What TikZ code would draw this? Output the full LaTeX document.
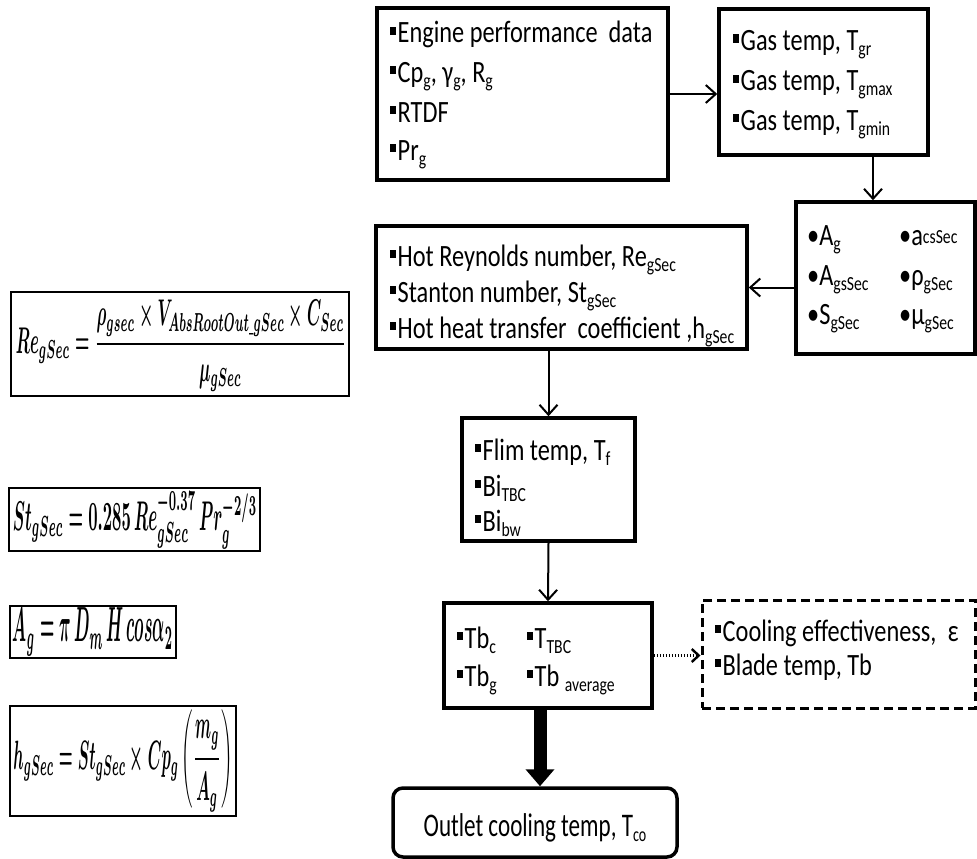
\documentclass[tikz,border=0pt]{standalone}
\usepackage{fontspec}
\setmainfont{Carlito}[FakeStretch=0.785]
\newfontfamily\outfont{Carlito}[FakeStretch=0.7]
\usepackage{amsmath}
\usepackage{graphicx}
\usetikzlibrary{arrows.meta}
\newcommand\lo[1]{\raisebox{-5pt}{\fontsize{20}{20}\selectfont #1}}
\newcommand\sqb{\rule[8pt]{6pt}{8.5pt}\hspace{1.5pt}}
\begin{document}
\begin{tikzpicture}[x=1pt,y=-1pt,
  fbox/.style={draw, line width=3.5pt, inner sep=0pt},
  ebox/.style={draw, line width=1.8pt, inner sep=0pt},
  txt/.style={anchor=base west, inner sep=0pt, font=\fontsize{31}{31}\selectfont},
  arr/.style={line width=2pt, -{Straight Barb[length=10pt,width=18pt]}},
  darr/.style={line width=2.4pt, dash pattern=on 1.5pt off 1.5pt, -{Straight Barb[length=7pt,width=13pt]}},
  bigarr/.style={line width=13pt, -{Triangle[length=17pt,width=28pt]}}]
\useasboundingbox (0,0) rectangle (977,859);

% flow boxes
\node[fbox, minimum width=291pt, minimum height=172pt] (b1) at (522.5,94) {};
\node[fbox, minimum width=209pt, minimum height=146pt] (b2) at (823.5,82) {};
\node[fbox, minimum width=179pt, minimum height=152pt] (b3) at (885.5,278) {};
\node[fbox, minimum width=371pt, minimum height=123pt] (b4) at (561.5,287.5) {};
\node[fbox, minimum width=173pt, minimum height=123pt] (b5) at (548.5,479.5) {};
\node[fbox, minimum width=208pt, minimum height=105pt] (b6) at (548,655.5) {};
\node[draw, line width=3pt, dash pattern=on 9pt off 5pt, inner sep=0pt, minimum width=273pt, minimum height=108pt] (b7) at (838.5,654) {};
\node[fbox, rounded corners=10pt, minimum width=284pt, minimum height=69pt] (b8) at (535,822.5) {};

% texts box1
\node[txt] (t1a) at (390,43) {\sqb Engine performance \ data};
\node[txt] (t1b) at (390,82) {\sqb Cp\lo{g}, γ\lo{g}, R\lo{g}};
\node[txt] (t1c) at (390,122) {\sqb RTDF};
\node[txt] (t1d) at (390,160) {\sqb Pr\lo{g}};
% box2
\node[txt] (t2a) at (733,51) {\sqb Gas temp, T\lo{gr}};
\node[txt] (t2b) at (733,91) {\sqb Gas temp, T\lo{gmax}};
\node[txt] (t2c) at (733,130) {\sqb Gas temp, T\lo{gmin}};
% box3
\node[txt] (t3a) at (807,245) {•A\lo{g}};
\node[txt] (t3b) at (807,285) {•A\lo{gsSec}};
\node[txt] (t3c) at (807,324) {•S\lo{gSec}};
\node[txt] (t3d) at (899,245) {•a\raisebox{2pt}{\fontsize{20}{20}\selectfont csSec}};
\node[txt] (t3e) at (899,285) {•ρ\lo{gSec}};
\node[txt] (t3f) at (899,324) {•μ\lo{gSec}};
% box4
\node[txt] (t4a) at (390,266) {\sqb Hot Reynolds number, Re\lo{gSec}};
\node[txt] (t4b) at (390,302) {\sqb Stanton number, St\lo{gSec}};
\node[txt] (t4c) at (390,338) {\sqb Hot heat transfer \ coefficient ,h\lo{gSec}};
% box5
\node[txt] (t5a) at (475,460) {\sqb Flim temp, T\lo{f}};
\node[txt] (t5b) at (475,496) {\sqb Bi\lo{TBC}};
\node[txt] (t5c) at (475,531) {\sqb Bi\lo{bw}};
% box6
\node[txt] (t6a) at (457,648) {\sqb Tb\lo{c}};
\node[txt] (t6b) at (527,648) {\sqb T\lo{TBC}};
\node[txt] (t6c) at (457,686) {\sqb Tb\lo{g}};
\node[txt] (t6d) at (527,686) {\sqb Tb \lo{average}};
% box7
\node[txt] (t7a) at (715,641) {\sqb Cooling effectiveness, \ ε};
\node[txt] (t7b) at (715,675) {\sqb Blade temp, Tb};
% box8
\node[txt, anchor=base, font=\outfont\fontsize{33}{33}\selectfont] (t8) at (535,836) {Outlet cooling temp, T\lo{co}};

% equation boxes
\node[ebox, minimum width=338pt, minimum height=104pt] (e1) at (180,344) {};
\node[ebox, minimum width=251pt, minimum height=63pt] (e2) at (134.5,519.5) {};
\node[ebox, minimum width=166pt, minimum height=52pt] (e3) at (93,632) {};
\node[ebox, minimum width=226pt, minimum height=110pt] (e4) at (123,761) {};
\node[inner sep=0pt] (q1) at (181,346) {\resizebox*{330pt}{92pt}{\boldmath$Re_{gSec}=\dfrac{\rho_{gsec}\times V_{AbsRootOut\_gSec}\times C_{Sec}}{\mu_{gSec}}$}};
\node[inner sep=0pt] (q2) at (135,520) {\resizebox*{244pt}{58pt}{\boldmath$St_{gSec}=0.285\,Re_{gSec}^{-0.37}\,Pr_{g}^{-2/3}$}};
\node[inner sep=0pt] (q3) at (93,632) {\resizebox*{160pt}{48pt}{\boldmath$A_{g}=\pi\, D_{m}\, H\, cos\alpha_{2}$}};
\node[inner sep=0pt] (q4) at (123,761) {\resizebox*{219pt}{102pt}{\boldmath$h_{gSec}=St_{gSec}\times Cp_{g}\left(\dfrac{m_{g}}{A_{g}}\right)$}};

% connectors
\draw[arr] (b1.east) -- (b1.east -| b2.west);
\draw[arr] ([xshift=49.5pt]b2.south) -- ([xshift=49.5pt]b2.south |- b3.north);
\draw[arr] (b4.east -| b3.west) -- (b4.east);
\draw[arr] (b5.north |- b4.south) -- (b5.north);
\draw[arr] (b5.south) -- (b6.north);
\draw[darr] (b6.east) -- (b6.east -| b7.west);
\draw[bigarr] ([xshift=-8pt]b6.south) -- ([xshift=-8pt]b6.south |- b8.north);
\end{tikzpicture}
\end{document}
